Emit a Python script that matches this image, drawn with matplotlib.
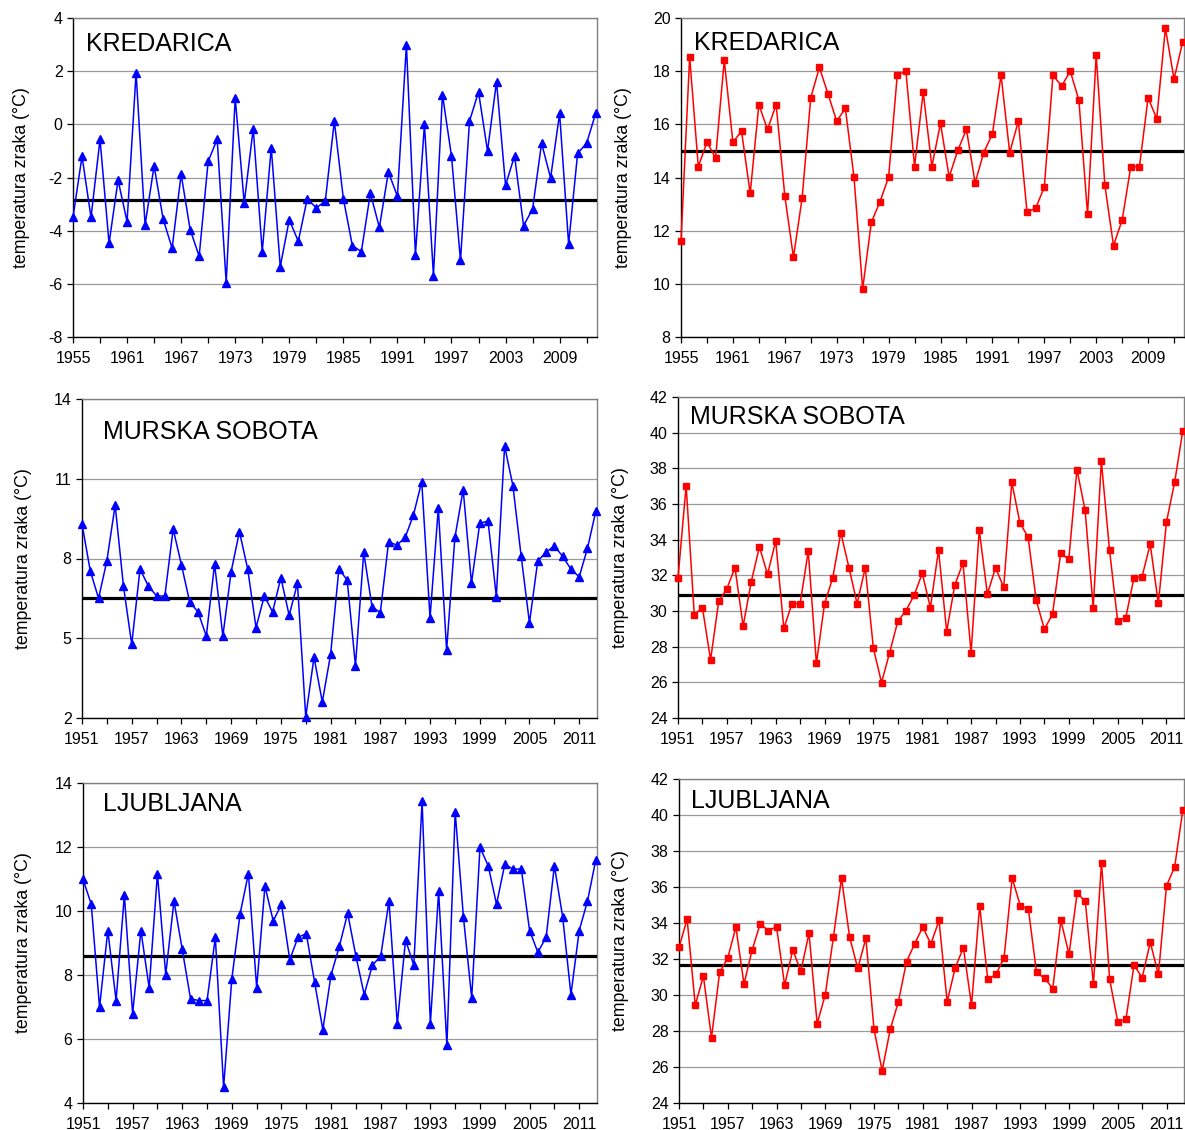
import matplotlib
matplotlib.use('Agg')
import matplotlib.pyplot as plt
import numpy as np

plt.rcParams['font.family'] = ['Liberation Sans', 'DejaVu Sans']
plt.rcParams['axes.unicode_minus'] = False

# Kredarica, 1955-2013
kred_years = np.arange(1955, 2014)
kred_low = [-3.5, -1.2, -3.5, -0.56, -4.48, -2.1, -3.66, 1.94, -3.79, -1.56,
            -3.56, -4.66, -1.88, -3.96, -4.96, -1.39, -0.56, -5.96, 1.0, -2.96,
            -0.16, -4.79, -0.88, -5.35, -3.59, -4.4, -2.79, -3.15, -2.88, 0.12,
            -2.79, -4.56, -4.79, -2.59, -3.88, -1.79, -2.71, 3.0, -4.9, 0.0,
            -5.69, 1.12, -1.19, -5.12, 0.12, 1.22, -1.0, 1.6, -2.29, -1.19,
            -3.81, -3.19, -0.71, -2.02, 0.41, -4.5, -1.09, -0.71, 0.41]
kred_high = [11.6, 18.54, 14.41, 15.33, 14.74, 18.41, 15.33, 15.74, 13.4, 16.74,
             15.81, 16.74, 13.31, 11.0, 13.22, 17.0, 18.14, 17.14, 16.12, 16.6,
             14.01, 9.81, 12.31, 13.09, 14.01, 17.85, 18.0, 14.41, 17.21, 14.41,
             16.04, 14.02, 15.02, 15.81, 13.8, 14.94, 15.64, 17.85, 14.94, 16.12,
             12.71, 12.84, 13.64, 17.85, 17.44, 18.0, 16.91, 12.62, 18.61, 13.71,
             11.44, 12.4, 14.41, 14.41, 17.0, 16.21, 19.62, 17.7, 19.11]
kred_low_mean = -2.85
kred_high_mean = 15.0

# Murska Sobota, 1951-2013
ms_years = np.arange(1951, 2014)
ms_low = [9.3, 7.53, 6.5, 7.91, 10.01, 6.97, 4.77, 7.6, 6.97, 6.59,
          6.59, 9.11, 7.76, 6.36, 5.99, 5.08, 7.79, 5.08, 7.51, 9.01,
          7.6, 5.4, 6.59, 5.99, 7.28, 5.86, 7.07, 2.04, 4.29, 2.6,
          4.39, 7.6, 7.19, 3.97, 8.23, 6.19, 5.96, 8.63, 8.5, 8.79,
          9.64, 10.89, 5.77, 9.89, 4.55, 8.79, 10.59, 7.07, 9.32, 9.41,
          6.57, 12.23, 10.74, 8.08, 5.58, 7.91, 8.23, 8.48, 8.08, 7.6,
          7.31, 8.38, 9.77]
ms_high = [31.85, 37.02, 29.8, 30.19, 27.26, 30.54, 31.25, 32.43, 29.16, 31.65,
           33.6, 32.06, 33.92, 29.03, 30.41, 30.41, 33.36, 27.06, 30.41, 31.85,
           34.39, 32.43, 30.41, 32.43, 27.9, 25.99, 27.67, 29.43, 30.02, 30.88,
           32.11, 30.19, 33.42, 28.85, 31.46, 32.69, 27.67, 34.54, 30.94, 32.43,
           31.33, 37.22, 34.93, 34.15, 30.6, 28.98, 29.82, 33.23, 32.9, 37.93,
           35.66, 30.19, 38.4, 33.42, 29.44, 29.63, 31.85, 31.93, 33.75, 30.43,
           35.0, 37.22, 40.1]
ms_low_mean = 6.5
ms_high_mean = 30.9

# Ljubljana, 1951-2013
lj_years = np.arange(1951, 2014)
lj_low = [10.99, 10.21, 6.99, 9.39, 7.2, 10.5, 6.79, 9.39, 7.6, 11.17,
          8.01, 10.31, 8.8, 7.26, 7.2, 7.2, 9.18, 4.49, 7.89, 9.92,
          11.17, 7.6, 10.78, 9.69, 10.21, 8.48, 9.18, 9.29, 7.78, 6.29,
          8.01, 8.9, 9.93, 8.59, 7.39, 8.31, 8.59, 10.31, 6.47, 9.09,
          8.31, 13.43, 6.47, 10.61, 5.8, 13.1, 9.81, 7.28, 11.99, 11.41,
          10.21, 11.46, 11.31, 11.31, 9.39, 8.71, 9.18, 11.41, 9.81, 7.39,
          9.39, 10.31, 11.59]
lj_high = [32.65, 34.21, 29.43, 31.05, 27.63, 31.26, 32.06, 33.77, 30.61, 32.5,
           33.97, 33.56, 33.8, 30.55, 32.5, 31.33, 33.43, 28.41, 30.01, 33.21,
           36.5, 33.21, 31.48, 33.15, 28.1, 25.79, 28.1, 29.62, 31.85, 32.84,
           33.77, 32.84, 34.14, 29.62, 31.52, 32.63, 29.43, 34.96, 30.87, 31.14,
           32.06, 36.5, 34.96, 34.77, 31.26, 30.92, 30.36, 34.14, 32.26, 35.66,
           35.2, 30.61, 37.33, 30.87, 28.51, 28.64, 31.67, 30.96, 32.93, 31.14,
           36.07, 37.11, 40.27]
lj_low_mean = 8.58
lj_high_mean = 31.67

W, H = 1185, 1130
fig = plt.figure(figsize=(W / 100, H / 100), dpi=100)
fig.patch.set_facecolor('white')


def panel(box, years, values, mean, color, marker, ms, ylim, ystep,
          name, name_xy, label_x):
    left, top, right, bottom = box
    ax = fig.add_axes([left / W, 1 - bottom / H, (right - left) / W, (bottom - top) / H])
    ax.set_facecolor('white')

    ax.plot(years, values, color=color, lw=1.1, marker=marker, ms=ms,
            mfc=color, mec=color, clip_on=False, zorder=4)
    ax.axhline(mean, color='black', lw=2.3, zorder=3)

    first = years[0]
    ax.set_xlim(first, years[-1] + 0.15)
    ax.set_ylim(*ylim)
    ax.set_yticks(np.arange(ylim[0], ylim[1] + 0.01, ystep))
    ax.yaxis.grid(True, color='#9a9a9a', lw=0.9)
    ax.set_axisbelow(True)

    xt = np.arange(first, years[-1] + 1, 3)
    ax.set_xticks(xt)
    ax.set_xticklabels([str(y) if (y - first) % 6 == 0 else '' for y in xt])

    ax.tick_params(direction='out', length=4, width=0.9, labelsize=11.5,
                   color='black', pad=3.5)
    ax.tick_params(axis='x', pad=6)
    for s in ('left', 'bottom'):
        ax.spines[s].set_color('black')
        ax.spines[s].set_linewidth(1.0)
    for s in ('top', 'right'):
        ax.spines[s].set_color('#808080')
        ax.spines[s].set_linewidth(1.0)

    fig.text(name_xy[0] / W, 1 - name_xy[1] / H, name, fontsize=18,
             va='center', ha='left')
    fig.text(label_x / W, 1 - (top + bottom) / 2 / H, 'temperatura zraka (°C)',
             rotation=90, fontsize=12.8, va='center', ha='center')
    return ax


blue, red = '#0000FF', '#FF0000'

panel((73, 18, 597, 337), kred_years, kred_low, kred_low_mean, blue, '^', 6.3,
      (-8, 4), 2, 'KREDARICA', (86, 44), 22)
panel((681, 18, 1184, 337), kred_years, kred_high, kred_high_mean, red, 's', 4.8,
      (8, 20), 2, 'KREDARICA', (694, 43), 624)
panel((82, 399, 597, 718), ms_years, ms_low, ms_low_mean, blue, '^', 6.3,
      (2, 14), 3, 'MURSKA SOBOTA', (103, 432), 24)
panel((678, 397, 1184, 718), ms_years, ms_high, ms_high_mean, red, 's', 4.8,
      (24, 42), 2, 'MURSKA SOBOTA', (690, 417), 620)
panel((83, 783, 597, 1103), lj_years, lj_low, lj_low_mean, blue, '^', 6.3,
      (4, 14), 2, 'LJUBLJANA', (103, 804), 24)
panel((679, 779, 1184, 1103), lj_years, lj_high, lj_high_mean, red, 's', 4.8,
      (24, 42), 2, 'LJUBLJANA', (691, 801), 620)

plt.savefig('out.png', dpi=100, facecolor='white')
